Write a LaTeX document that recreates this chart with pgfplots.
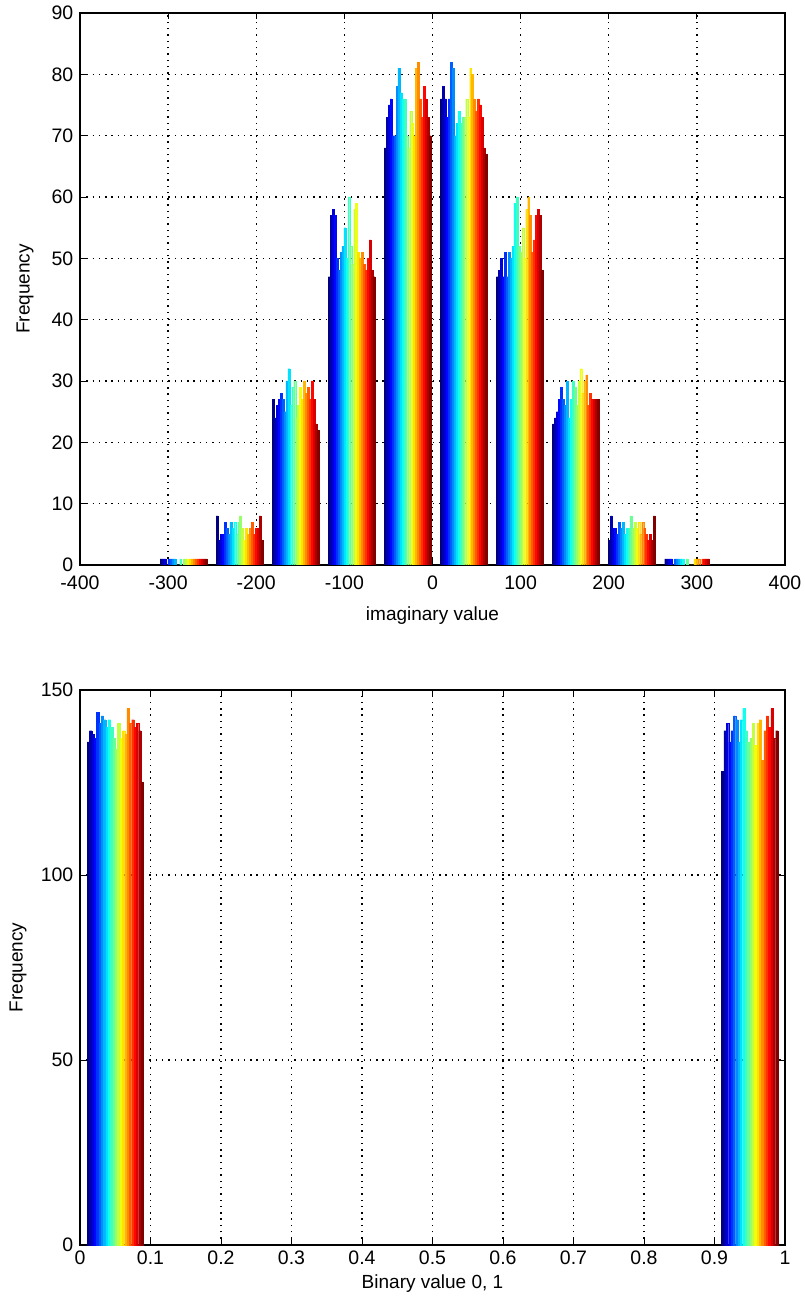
\documentclass[border=0pt]{standalone}
\usepackage{fontspec}
\setmainfont{Liberation Sans}
\usepackage{pgfplots}
\usepackage{pgfplotstable}
\pgfplotsset{compat=1.18}

% rows = bins, h1..h24 = the 24 columns of the histogram
\pgfplotstableread{
c h1 h2 h3 h4 h5 h6 h7 h8 h9 h10 h11 h12 h13 h14 h15 h16 h17 h18 h19 h20 h21 h22 h23 h24
-282.5 1 1 1 0 1 1 1 1 0 0 1 0 1 1 1 1 1 1 1 1 1 1 1 1
-218.9 8 4 5 5 7 6 5 7 6 7 5 7 8 6 4 6 5 6 7 5 6 6 8 4
-155.3 27 24 26 27 28 27 25 30 32 26 29 30 24 26 29 27 30 28 29 27 30 27 23 22
-91.7 47 57 58 57 50 48 51 52 55 50 60 52 49 58 59 51 50 51 49 48 50 53 48 47
-28.1 68 73 75 76 70 70 78 81 77 76 76 70 68 74 72 70 81 82 76 73 78 76 73 70
35.5 76 78 76 73 76 82 81 70 72 74 72 73 73 76 73 81 80 76 74 76 75 73 68 67
99.1 47 48 50 47 51 47 51 50 52 59 60 52 51 55 50 58 60 57 51 53 57 58 57 48
162.7 23 24 25 27 29 27 26 30 24 27 30 29 26 30 32 28 30 31 26 28 27 27 27 27
226.3 4 8 6 6 5 7 6 7 5 6 6 8 6 7 6 7 5 7 6 5 4 5 4 8
289.9 1 1 1 1 0 1 1 1 1 1 0 1 0 0 0 1 1 1 0 1 1 1 1 0
}\imagdata

\pgfplotstableread{
c h1 h2 h3 h4 h5 h6 h7 h8 h9 h10 h11 h12 h13 h14 h15 h16 h17 h18 h19 h20 h21 h22 h23 h24
0.05 136 139 138 137 144 141 143 142 140 142 140 137 134 141 137 139 138 145 141 142 140 141 139 125
0.95 128 139 141 136 139 143 142 136 142 145 139 136 137 141 135 141 142 131 139 143 140 145 137 139
}\bindata

\pgfplotsset{
  matfig/.style={
    scale only axis, width=705pt,
    axis line style={black, line width=1.2pt},
    tick align=inside, major tick length=6pt,
    tick style={black, line width=0.9pt},
    grid=major,
    grid style={black, line width=1.4pt, dash pattern=on 1.4pt off 4.9pt},
    tick label style={font=\fontsize{19.5}{22}\selectfont, inner sep=1pt},
    yticklabel style={xshift=-5.5pt},
    label style={font=\fontsize{19}{22}\selectfont},
    colormap/jet,
    cycle list={[samples of colormap=24]},
  },
}

\begin{document}
\begin{tikzpicture}
\useasboundingbox (-80pt,-735pt) rectangle (725pt,565pt);

\begin{axis}[matfig, height=552pt,
  xmin=-400, xmax=400, ymin=0, ymax=90,
  xtick={-400,-300,...,400},
  xticklabels={-400,-300,-200,-100,0,100,200,300,400},
  xticklabel style={yshift=-10pt},
  ytick={0,10,...,90},
  yticklabels={0,10,20,30,40,50,60,70,80,90},
  xlabel={imaginary value},
  xlabel style={at={(axis description cs:0.5,-0.092)}, anchor=center},
  ylabel={Frequency},
  ylabel style={at={(axis description cs:-0.078,0.5)}, anchor=center},
]
\pgfplotsinvokeforeach{1,...,24}{
  \addplot+[ybar, bar shift=0pt, bar width=2.21, fill, draw, line width=0.2pt]
    table[x expr={\thisrow{c}+(#1-12.5)*2.21}, y=h#1] {\imagdata};
}
\end{axis}

\begin{axis}[matfig, height=555pt, at={(0pt,-125pt)}, anchor=north west,
  xmin=0, xmax=1, ymin=0, ymax=150,
  xtick={0,0.1,...,1},
  xticklabels={0,0.1,0.2,0.3,0.4,0.5,0.6,0.7,0.8,0.9,1},
  xticklabel style={yshift=-5pt},
  ytick={0,50,100,150},
  yticklabels={0,50,100,150},
  xlabel={Binary value 0, 1},
  xlabel style={at={(axis description cs:0.5,-0.07)}, anchor=center},
  ylabel={Frequency},
  ylabel style={at={(axis description cs:-0.088,0.5)}, anchor=center},
]
\pgfplotsinvokeforeach{1,...,24}{
  \addplot+[ybar, bar shift=0pt, bar width=0.003333, fill, draw, line width=0.2pt]
    table[x expr={\thisrow{c}+(#1-12.5)*0.003333}, y=h#1] {\bindata};
}
\end{axis}
\end{tikzpicture}
\end{document}
